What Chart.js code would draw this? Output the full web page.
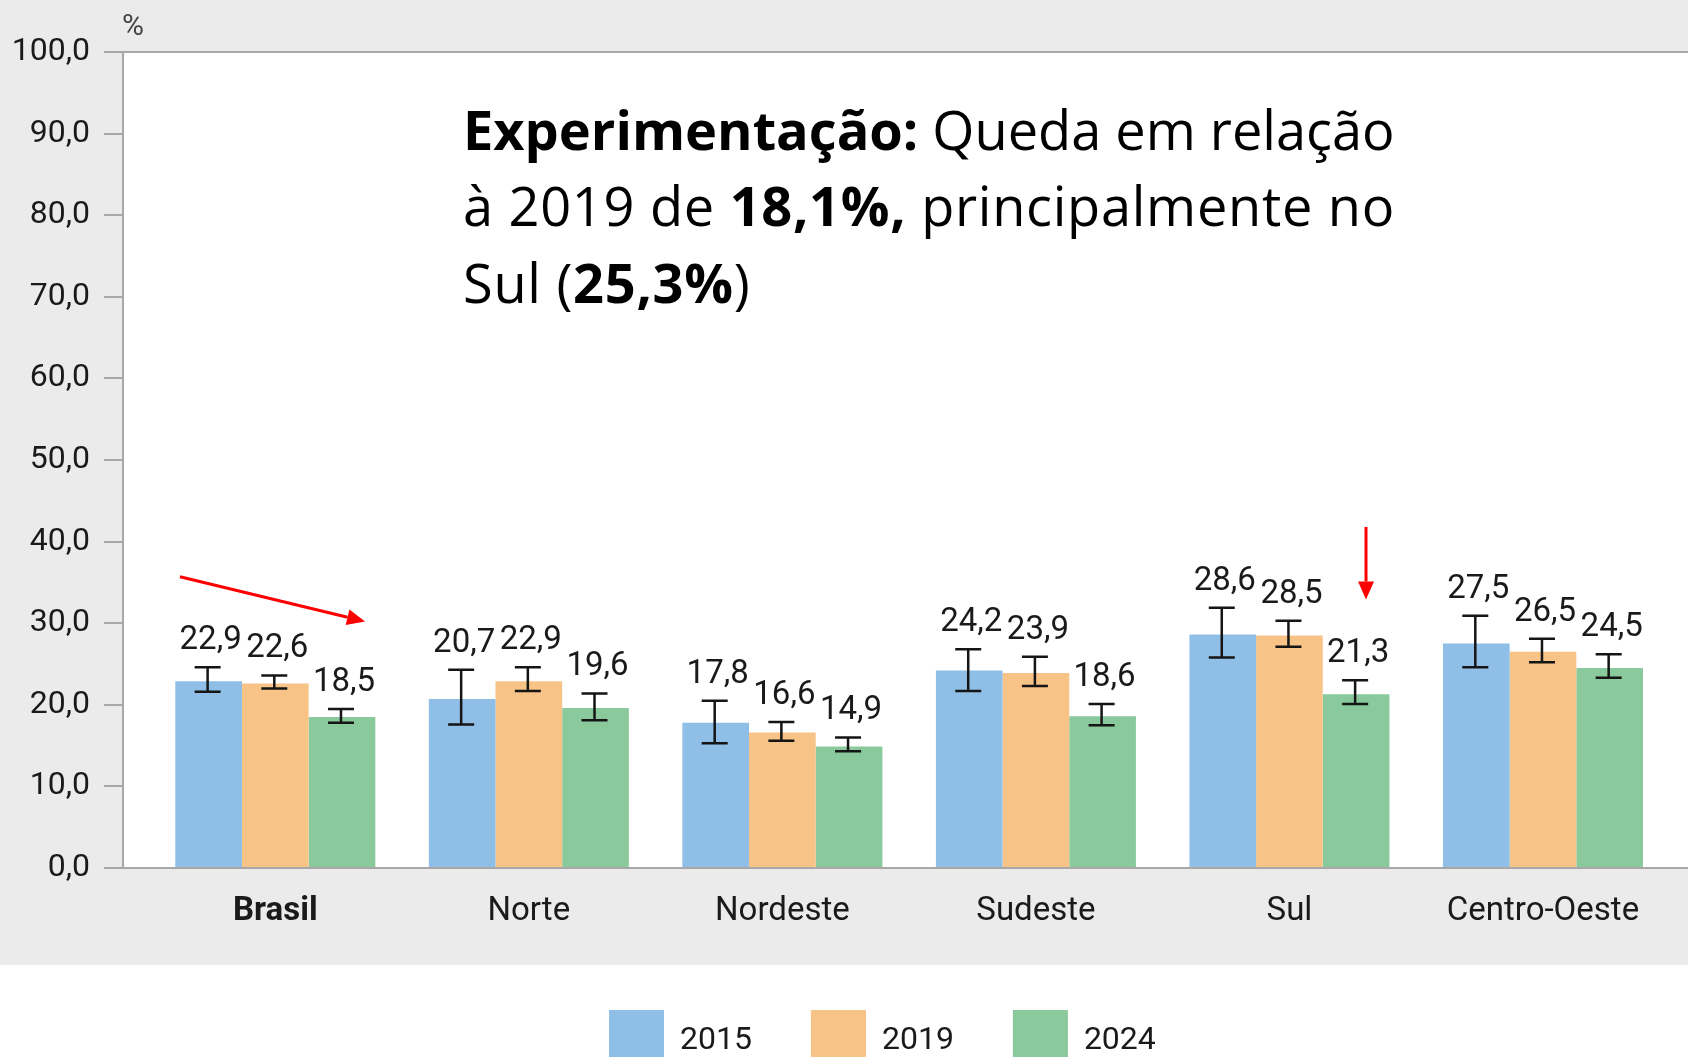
<!DOCTYPE html>
<html><head><meta charset="utf-8">
<script src="https://cdn.jsdelivr.net/npm/chart.js@4.4.1/dist/chart.umd.min.js"></script>
<style>html,body{margin:0;padding:0;overflow:hidden;background:#fff}#wrap{position:relative;width:1688px;height:1057px}</style>
</head><body><div id="wrap"><canvas id="c" width="1688" height="1057"></canvas></div>
<script>
// ---- data ----
const categories = ['Brasil', 'Norte', 'Nordeste', 'Sudeste', 'Sul', 'Centro-Oeste'];
const seriesLabels = ['2015', '2019', '2024'];
const values2015 = [22.9, 20.7, 17.8, 24.2, 28.6, 27.5];
const values2019 = [22.6, 22.9, 16.6, 23.9, 28.5, 26.5];
const values2024 = [18.5, 19.6, 14.9, 18.6, 21.3, 24.5];
const low2015 = [21.6, 17.6, 15.3, 21.7, 25.8, 24.6];
const high2015 = [24.6, 24.3, 20.5, 26.8, 31.9, 30.9];
const low2019 = [22.0, 21.7, 15.6, 22.3, 27.1, 25.2];
const high2019 = [23.6, 24.6, 17.9, 25.9, 30.3, 28.1];
const low2024 = [17.8, 18.1, 14.3, 17.5, 20.1, 23.3];
const high2024 = [19.5, 21.4, 16.0, 20.1, 23.0, 26.2];
const yTicks = [0, 10, 20, 30, 40, 50, 60, 70, 80, 90, 100];

const seriesValues = [values2015, values2019, values2024];
const seriesLow = [low2015, low2019, low2024];
const seriesHigh = [high2015, high2019, high2024];
const colors = ['#8FBEE6', '#F8C387', '#89C99B'];
const FONT = 'Roboto, "Liberation Sans", Arial, sans-serif';
const TFONT = '"Open Sans", "Noto Sans", sans-serif';
const fmt = v => v.toFixed(1).replace('.', ',');

const bgPlugin = {
  id: 'bg',
  beforeDraw(chart) {
    const {ctx, chartArea: a, width, height} = chart;
    ctx.save();
    ctx.fillStyle = '#ffffff'; ctx.fillRect(0, 0, width, height);
    ctx.fillStyle = '#EBEBEB'; ctx.fillRect(0, 0, width, 965);
    ctx.fillStyle = '#ffffff'; ctx.fillRect(a.left, a.top, a.right - a.left, a.bottom - a.top);
    ctx.restore();
  }
};

const errPlugin = {
  id: 'err',
  afterDatasetsDraw(chart) {
    const {ctx} = chart;
    const y = chart.scales.y;
    ctx.save();
    chart.data.datasets.forEach((ds, s) => {
      const meta = chart.getDatasetMeta(s);
      meta.data.forEach((bar, i) => {
        const x = bar.x - 1;
        const yl = y.getPixelForValue(seriesLow[s][i]);
        const yh = y.getPixelForValue(seriesHigh[s][i]);
        ctx.strokeStyle = '#151515'; ctx.lineWidth = 2.5;
        ctx.beginPath();
        ctx.moveTo(x, yl); ctx.lineTo(x, yh);
        ctx.moveTo(x - 13, yl); ctx.lineTo(x + 13, yl);
        ctx.moveTo(x - 13, yh); ctx.lineTo(x + 13, yh);
        ctx.stroke();
        ctx.fillStyle = '#1a1a1a';
        ctx.font = '33px ' + FONT;
        ctx.textAlign = 'center'; ctx.textBaseline = 'alphabetic';
        ctx.fillText(fmt(seriesValues[s][i]), bar.x + 2, yh - 18);
      });
    });
    ctx.restore();
  }
};

function arrow(ctx, x1, y1, x2, y2) {
  const ang = Math.atan2(y2 - y1, x2 - x1);
  const hl = 18, hw = 8;
  const bx = x2 - hl * Math.cos(ang), by = y2 - hl * Math.sin(ang);
  ctx.beginPath(); ctx.moveTo(x1, y1); ctx.lineTo(bx, by); ctx.stroke();
  ctx.beginPath();
  ctx.moveTo(x2, y2);
  ctx.lineTo(bx + hw * Math.sin(ang), by - hw * Math.cos(ang));
  ctx.lineTo(bx - hw * Math.sin(ang), by + hw * Math.cos(ang));
  ctx.closePath(); ctx.fill();
}

const noteLines = [
  [['Experimentação:', true], [' Queda em relação', false]],
  [['à 2019 de ', false], ['18,1%,', true], [' principalmente no', false]],
  [['Sul (', false], ['25,3%', true], [')', false]]
];

const annPlugin = {
  id: 'ann',
  afterDraw(chart) {
    const {ctx, chartArea: a} = chart;
    const xs = chart.scales.x, ys = chart.scales.y;
    ctx.save();
    // % unit label
    ctx.fillStyle = '#444'; ctx.font = '30px ' + FONT;
    ctx.textAlign = 'left'; ctx.textBaseline = 'alphabetic';
    ctx.fillText('%', a.left - 1, a.top - 17);
    // annotation text, fitted to width
    const measure = (line, size) => line.reduce((w, [t, b]) => {
      ctx.font = (b ? 'bold ' : '') + size + 'px ' + TFONT; return w + ctx.measureText(t).width; }, 0);
    const target = 932;
    const size = 100 * target / measure(noteLines[0], 100);
    const chars2 = noteLines[1].reduce((n, [t]) => n + t.length, 0);
    const extra = Math.max(0, (target - measure(noteLines[1], size)) / chars2);
    const spacing = [0, extra, extra];
    const baselines = [a.top + 98, a.top + 174, a.top + 251];
    ctx.fillStyle = '#000';
    noteLines.forEach((line, li) => {
      let x = 463;
      ctx.letterSpacing = spacing[li].toFixed(2) + 'px';
      line.forEach(([t, b]) => {
        ctx.font = (b ? 'bold ' : '') + size + 'px ' + TFONT;
        ctx.fillText(t, x, baselines[li]);
        x += ctx.measureText(t).width;
      });
    });
    ctx.letterSpacing = '0px';
    // red arrows (data coordinates)
    ctx.strokeStyle = '#FF0000'; ctx.fillStyle = '#FF0000'; ctx.lineWidth = 3;
    arrow(ctx, xs.getPixelForValue(-0.376), ys.getPixelForValue(35.7), xs.getPixelForValue(0.354), ys.getPixelForValue(30.2));
    arrow(ctx, xs.getPixelForValue(4.302), ys.getPixelForValue(41.8), xs.getPixelForValue(4.302), ys.getPixelForValue(32.9));
    // legend
    let lx = 609;
    ctx.font = '32px ' + FONT;
    seriesLabels.forEach((lab, s) => {
      ctx.fillStyle = colors[s];
      ctx.fillRect(lx, 1010, 55, 60);
      ctx.fillStyle = '#1a1a1a';
      ctx.fillText(lab, lx + 71, 1049);
      lx += 55 + 16 + ctx.measureText(lab).width + 59;
    });
    ctx.restore();
  }
};

new Chart(document.getElementById('c'), {
  type: 'bar',
  data: {
    datasets: seriesLabels.map((lab, s) => ({
      label: lab,
      data: categories.map((c, i) => ({x: i, y: seriesValues[s][i]})),
      backgroundColor: colors[s],
      borderWidth: 0,
      categoryPercentage: 0.789,
      barPercentage: 1.0
    }))
  },
  options: {
    responsive: false,
    animation: false,
    devicePixelRatio: 1,
    layout: {padding: {top: 52, left: 0, right: 0, bottom: 0}},
    plugins: {legend: {display: false}, tooltip: {enabled: false}},
    scales: {
      x: {
        type: 'linear', min: -0.6007, max: 5.572, offset: false,
        grid: {display: false}, border: {display: false},
        afterBuildTicks: s => { s.ticks = categories.map((c, i) => ({value: i})); },
        afterFit: s => { s.height = 189; },
        ticks: {
          autoSkip: false, maxRotation: 0, padding: 16, color: '#1a1a1a',
          font: c => ({family: FONT, size: 33, weight: (c.tick && c.tick.value === 0) ? 'bold' : 'normal'}),
          callback: v => categories[v] !== undefined ? categories[v] : ''
        }
      },
      y: {
        min: 0, max: 100,
        afterBuildTicks: s => { s.ticks = yTicks.map(v => ({value: v})); },
        afterFit: s => { s.width = 123; },
        ticks: {padding: 14, color: '#1a1a1a', font: {family: FONT, size: 32}, callback: v => fmt(v)},
        grid: {
          color: c => (c.tick && (c.tick.value === 0 || c.tick.value === 100)) ? '#A8A8A8' : 'rgba(0,0,0,0)',
          tickColor: '#A8A8A8', lineWidth: 2, tickLength: 19
        },
        border: {display: true, color: '#A8A8A8', width: 2}
      }
    }
  },
  plugins: [bgPlugin, errPlugin, annPlugin]
});
</script></body></html>
